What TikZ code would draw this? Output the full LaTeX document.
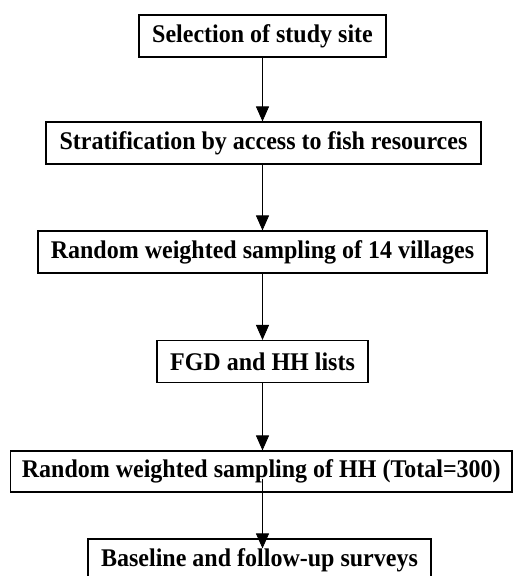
\documentclass[tikz,border=0pt]{standalone}
\usepackage{fontspec}
\setmainfont{Liberation Serif}
\usetikzlibrary{arrows.meta}
\begin{document}
\begin{tikzpicture}[x=1pt,y=1pt,
  stagebox/.style={draw=black, line width=1.1pt, fill=white, inner sep=0pt,
    font=\fontsize{24}{26}\selectfont\bfseries, minimum height=42pt},
  arr/.style={draw=black, line width=0.9pt, -{Triangle[width=13pt,length=15pt]}}]
\useasboundingbox (0,0) rectangle (513,576);
\fill[white] (0,0) rectangle (513,576);
\node[stagebox, minimum width=247pt] (b1) at (262.5,540) {\scalebox{1}[1.06]{Selection of study site}};
\node[stagebox, minimum width=435pt] (b2) at (263.5,433) {\scalebox{1}[1.06]{Stratification by access to fish resources}};
\node[stagebox, minimum width=449pt] (b3) at (262.5,324) {\scalebox{1}[1.06]{Random weighted sampling of 14 villages}};
\node[stagebox, minimum width=211pt] (b4) at (262.5,214.5) {\scalebox{1}[1.06]{FGD and HH lists}};
\node[stagebox, minimum width=501.5pt, minimum height=41pt] (b5) at (261.25,104.5) {\scalebox{1}[1.06]{Random weighted sampling of HH (Total=300)}};
\node[stagebox, minimum width=343pt, minimum height=43pt] (b6) at (259.5,15.5) {\scalebox{1}[1.06]{Baseline and follow-up surveys}};
\draw[arr] (b1.south -| b1) -- (b2.north -| b1);
\draw[arr] (b2.south -| b1) -- (b3.north -| b1);
\draw[arr] (b3.south -| b1) -- (b4.north -| b1);
\draw[arr] (b4.south -| b1) -- (b5.north -| b1);
\draw[arr] ([yshift=14pt]b5.south -| b1) -- ([yshift=-10pt]b6.north -| b1);
\end{tikzpicture}
\end{document}
